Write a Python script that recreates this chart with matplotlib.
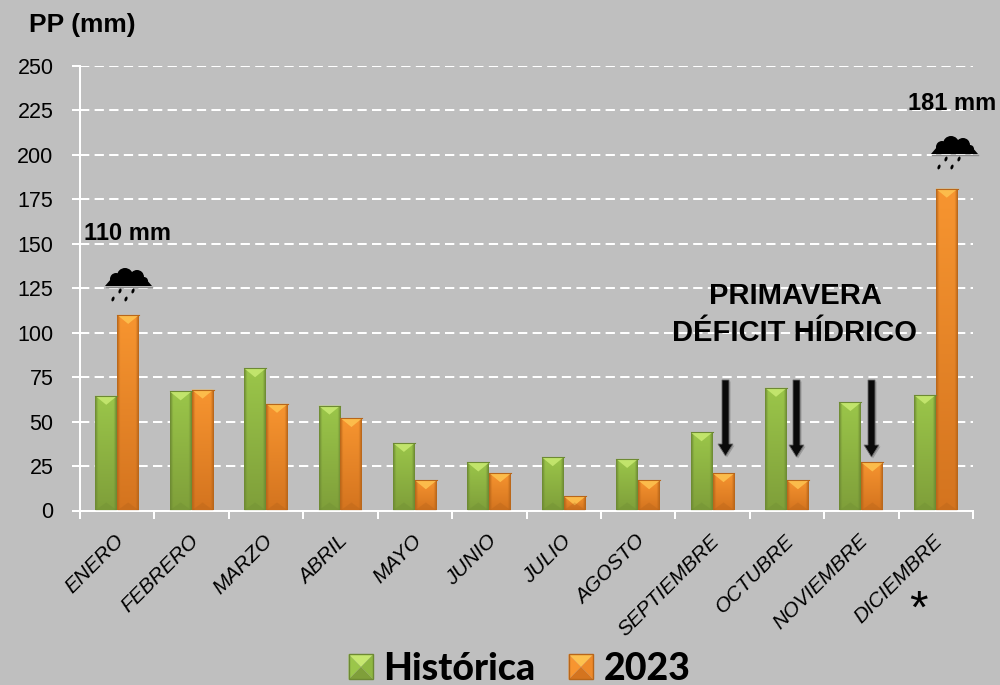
import numpy as np
from matplotlib import pyplot as plt
from matplotlib import patches
from matplotlib.colors import to_rgb
from matplotlib.legend_handler import HandlerBase

meses = ['ENERO', 'FEBRERO', 'MARZO', 'ABRIL', 'MAYO', 'JUNIO', 'JULIO', 'AGOSTO',
         'SEPTIEMBRE', 'OCTUBRE', 'NOVIEMBRE', 'DICIEMBRE']
historica = [64.5, 67, 80, 59, 38, 27, 30, 29, 44, 69, 61, 65]
pp_2023 = [110, 68, 60, 52, 17, 21, 8, 17, 21, 17, 27, 181]
yticks = list(range(0, 251, 25))

GRIS = '#bfbfbf'
VERDE = ['#6d8a33', '#9bc64a', '#8fb842', '#7f9f3a', '#688531']
NARANJA = ['#b8661a', '#f79530', '#ee8a2a', '#d4741f', '#a85c17']
VERDE_TOP = '#c6e870'
NARANJA_TOP = '#fdc14f'

plt.rcParams['font.family'] = ['Liberation Sans', 'DejaVu Sans']
fig = plt.figure(figsize=(10, 6.85), dpi=100, facecolor=GRIS)
ax = fig.add_axes([80 / 1000, 1 - 510.5 / 685, 893 / 1000, 444.5 / 685], facecolor=GRIS)


def degradado(colores):
    # horizontal: bordes oscuros, centro claro / vertical: mas oscuro abajo
    borde, centro, bajo = [np.array(to_rgb(colores[i])) for i in (0, 1, 3)]
    u = np.abs(np.linspace(-1, 1, 32))
    k = np.clip((u - 0.72) / 0.28, 0, 1)[None, :, None]
    v = np.linspace(0, 1, 64)[:, None, None]
    base = centro * (1 - v) + bajo * v
    return base * (1 - k) + borde * k


def pinta_barras(rects, colores, top):
    for r in rects:
        x0, w, h = r.get_x(), r.get_width(), r.get_height()
        r.set_facecolor('none')
        im = ax.imshow(degradado(colores), extent=[x0, x0 + w, 0, h], aspect='auto', zorder=3)
        im.set_clip_path(r)
        # bisel de arriba y de abajo
        alto = min(h, 9 * 250 / 444.5)
        ax.fill([x0, x0 + w, x0 + w / 2], [h, h, h - alto], color=top, lw=0, zorder=4, alpha=0.9)
        ax.fill([x0, x0 + w, x0 + w / 2], [0, 0, alto * 0.9], color=colores[4], lw=0, zorder=4, alpha=0.25)
        ax.plot([x0, x0 + w], [h, h], color=colores[0], lw=0.8, zorder=5)


x = np.arange(len(meses))
ancho = 0.295
b1 = ax.bar(x - ancho / 2, historica, ancho, zorder=3, label='Histórica')
b2 = ax.bar(x + ancho / 2, pp_2023, ancho, zorder=3, label='2023')
pinta_barras(b1, VERDE, VERDE_TOP)
pinta_barras(b2, NARANJA, NARANJA_TOP)

ax.set_xlim(-0.5, 11.5)
ax.set_ylim(0, 250)
ax.set_yticks(yticks)
ax.set_xticks(np.arange(-0.5, 12, 1))
ax.set_xticklabels([])
ax.tick_params(axis='y', colors='white', length=6, width=1.44, labelcolor='black', labelsize=15.5, pad=13)
ax.tick_params(axis='x', colors='white', length=6, width=1.44)
ax.yaxis.grid(True, color='white', lw=1.44, ls=(0, (4.65, 2.65)), zorder=1)
ax.set_axisbelow(True)
for s in ['top', 'right']:
    ax.spines[s].set_visible(False)
for s in ['left', 'bottom']:
    ax.spines[s].set_color('white')
    ax.spines[s].set_linewidth(1.44)

for i, m in enumerate(meses):
    ax.annotate(m, (i, 0), xytext=(-2, -15), textcoords='offset points', rotation=45,
                ha='right', va='top', rotation_mode='anchor', fontsize=15, style='italic',
                family=['Liberation Sans', 'DejaVu Sans'], color='black')

# capa en pixeles para los rotulos y dibujos
ov = fig.add_axes([0, 0, 1, 1], facecolor='none')
ov.set_xlim(0, 1000)
ov.set_ylim(685, 0)
ov.axis('off')


def nube(cx, cy):
    for dx, dy, r in [(-12, 0, 6), (-3, -3, 8), (9, -2, 7), (16, 2, 4)]:
        ov.add_patch(patches.Circle((cx + dx, cy + dy), r, fc='black', ec='none', zorder=6))
    ov.fill([cx - 23, cx - 17, cx + 18, cx + 24], [cy + 7, cy, cy, cy + 7], color='black', lw=0, zorder=6)
    ov.plot([cx - 22, cx + 24], [cy + 8, cy + 8], color='#8c8c8c', lw=1, zorder=5)
    for dx, dy in [(-8, 12), (5, 12), (-15, 20), (-2, 20)]:
        ov.add_patch(patches.Ellipse((cx + dx, cy + dy), 2.8, 5, angle=20, fc='black', ec='none', zorder=6))


def flecha(cx, y0, y1):
    pts = np.array([(cx - 3.5, y0), (cx + 3.5, y0), (cx + 3.5, y1 - 12), (cx + 7.5, y1 - 12),
                    (cx, y1), (cx - 7.5, y1 - 12), (cx - 3.5, y1 - 12)])
    ov.add_patch(patches.Polygon(pts + [1.5, 1.5], fc='#555555', ec='none', alpha=0.35, zorder=5))
    ov.add_patch(patches.Polygon(pts, fc='#0a0a0a', ec='#6a6a6a', lw=0.6, zorder=6))


nube(128, 279)
nube(954, 147)
for cx, y0, y1 in [(725.5, 380, 456), (796.5, 380, 457), (871.5, 380, 457)]:
    flecha(cx, y0, y1)

ov.text(82, 25, 'PP (mm)', fontsize=19, weight='bold', ha='center', va='center')
ov.text(128, 233, '110 mm', fontsize=17, weight='bold', ha='center', va='center')
ov.text(952.5, 103, '181 mm', fontsize=17, weight='bold', ha='center', va='center')
ov.text(795, 296, 'PRIMAVERA', fontsize=21, weight='bold', ha='center', va='center')
ov.text(795, 333, 'DÉFICIT HÍDRICO', fontsize=21, weight='bold', ha='center', va='center')
ov.text(918, 611, '*', fontsize=34, ha='center', va='center', family=['Liberation Sans'])


class HandlerBisel(HandlerBase):
    def create_artists(self, legend, orig, xd, yd, w, h, fontsize, trans):
        cols, top = orig.cols, orig.top
        c = (w / 2 - xd, h / 2 - yd)
        a, b, d, e = (-xd, -yd), (w - xd, -yd), (w - xd, h - yd), (-xd, h - yd)
        arts = []
        for tri, col in [((e, d, c), top), ((a, e, c), cols[1]), ((b, d, c), cols[2]), ((a, b, c), cols[3])]:
            arts.append(patches.Polygon(tri, fc=col, ec='none', transform=trans))
        arts.append(patches.Rectangle(a, w, h, fc='none', ec=cols[0], lw=1, transform=trans))
        return arts


h1 = patches.Patch(label='Histórica')
h1.cols, h1.top = VERDE, VERDE_TOP
h2 = patches.Patch(label='2023')
h2.cols, h2.top = NARANJA, NARANJA_TOP
ov.legend(handles=[h1, h2], handler_map={patches.Patch: HandlerBisel()}, loc='center', ncol=2,
          bbox_to_anchor=(519.5, 669), bbox_transform=ov.transData, frameon=False,
          prop={'family': ['Lato', 'DejaVu Sans'], 'weight': 'black', 'size': 27},
          handlelength=0.66, handleheight=0.66, handletextpad=0.27, columnspacing=0.88, borderpad=0)

fig.savefig('out.png', dpi=100, facecolor=GRIS)
